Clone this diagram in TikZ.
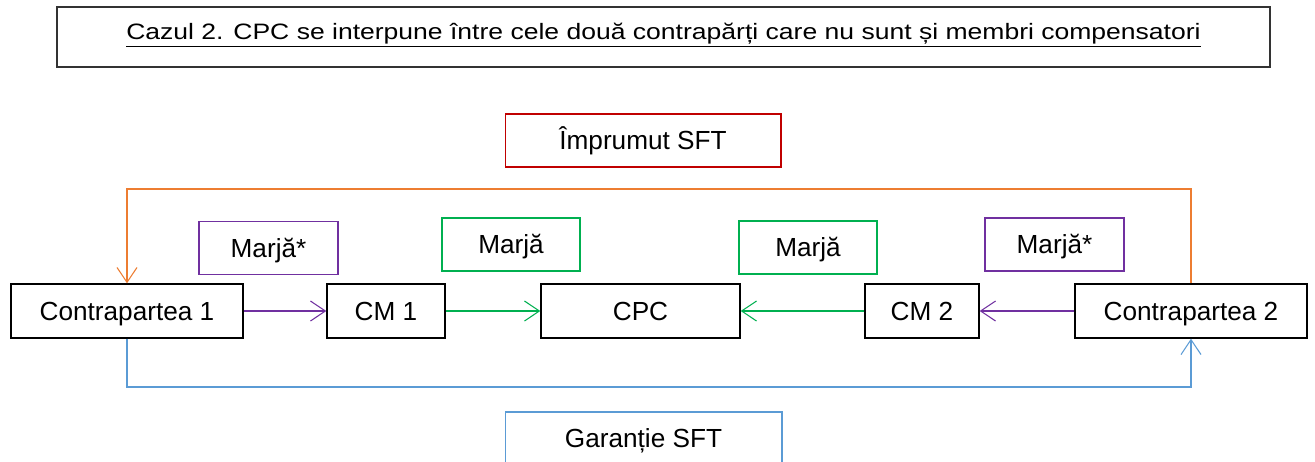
\documentclass[tikz,border=0pt]{standalone}
\usepackage{fontspec}
\setmainfont{Liberation Sans}
\usetikzlibrary{arrows.meta}
\definecolor{ccred}{RGB}{192,0,0}
\definecolor{ccorange}{RGB}{237,125,49}
\definecolor{ccpurple}{RGB}{112,48,160}
\definecolor{ccgreen}{RGB}{0,176,80}
\definecolor{ccblue}{RGB}{91,155,213}
\begin{document}
\begin{tikzpicture}[x=0.02cm,y=-0.02cm,
    box/.style={draw,rectangle,inner sep=0pt,minimum height=1.06cm,
      text height=10.7pt,text depth=0pt,
      font=\fontsize{14.9}{18}\selectfont},
    flow/.style={-{Straight Barb[length=8.5pt,width=11.4pt]},line width=0.6pt}]
  \useasboundingbox (0,0) rectangle (1315,461);
  \node[draw=black!80,line width=0.8pt,inner sep=0pt,minimum width=24.26cm,minimum height=1.2cm,
    text height=9.1pt,text depth=6.5pt,font=\fontsize{15.1}{18}\selectfont] (title) at (663.5,37)
    {\scalebox{1}[0.84]{\underline{Cazul 2. CPC se interpune între cele două contrapărți care nu sunt și membri compensatori}}};
  \begin{scope}[every node/.style={box,line width=0.8pt,draw=black}]
    \node[minimum width=4.64cm,minimum height=1.08cm] (cp1) at (127,311) {Contrapartea 1};
    \node[minimum width=2.36cm,minimum height=1.08cm] (cm1) at (386,311) {CM 1};
    \node[minimum width=3.98cm,minimum height=1.08cm] (cpc) at (640.5,311) {CPC};
    \node[minimum width=2.28cm,minimum height=1.08cm] (cm2) at (922,311) {CM 2};
    \node[minimum width=4.64cm,minimum height=1.08cm] (cp2) at (1191,311) {Contrapartea 2};
  \end{scope}
  \begin{scope}[every node/.style={box,line width=0.6pt}]
    \node[draw=ccred,minimum width=5.52cm] (loan) at (643,140.5) {Împrumut SFT};
    \node[draw=ccpurple,minimum width=2.78cm] (m1) at (268.5,248) {Marjă*};
    \node[draw=ccgreen,minimum width=2.76cm] (m2) at (511,244.5) {Marjă};
    \node[draw=ccgreen,minimum width=2.76cm] (m3) at (808,247.5) {Marjă};
    \node[draw=ccpurple,minimum width=2.78cm] (m4) at (1054.5,244.5) {Marjă*};
    \node[draw=ccblue,minimum width=5.54cm] (coll) at (643.5,438.5) {Garanție SFT};
  \end{scope}
  \coordinate (otop) at (640,189);
  \coordinate (bbot) at (640,387);
  \draw[flow,ccpurple] (cp1) -- (cm1);
  \draw[flow,ccgreen] (cm1) -- (cpc);
  \draw[flow,ccgreen] (cm2) -- (cpc);
  \draw[flow,ccpurple] (cp2) -- (cm2);
  \draw[flow,ccorange] (cp2.north) |- (otop) -| (cp1.north);
  \draw[flow,ccblue] (cp1.south) |- (bbot) -| (cp2.south);
\end{tikzpicture}
\end{document}
